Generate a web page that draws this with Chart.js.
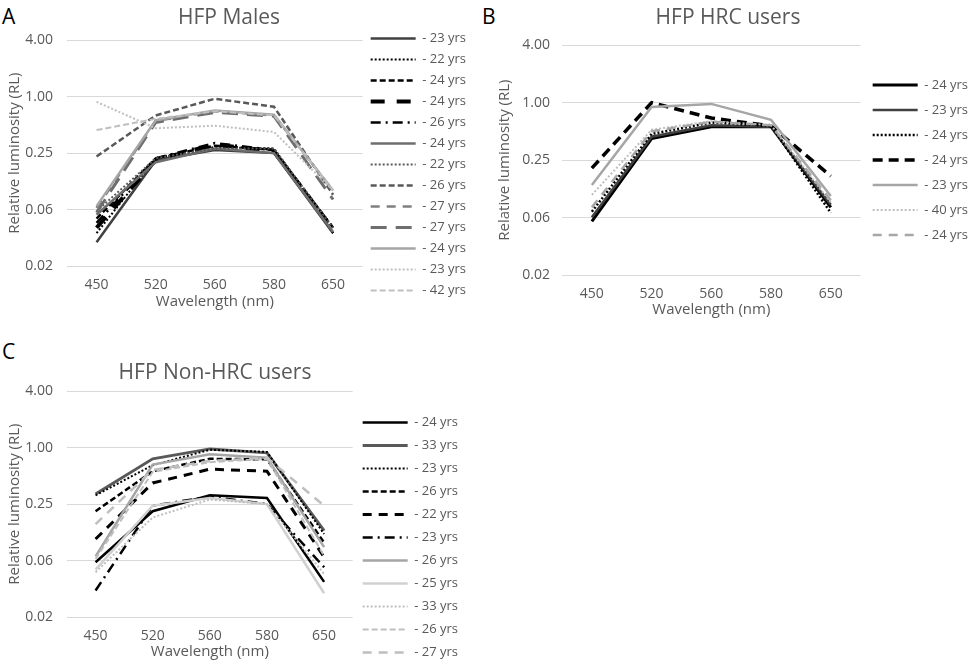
<!DOCTYPE html>
<html>
<head>
<meta charset="utf-8">
<title>HFP relative luminosity</title>
<script src="https://cdn.jsdelivr.net/npm/chart.js@4.4.1/dist/chart.umd.min.js"></script>
<style>
  html, body { margin: 0; padding: 0; background: #fff; overflow: hidden; }
  body { width: 974px; height: 662px; position: relative; font-family: 'Open Sans', sans-serif; }
  canvas { position: absolute; }
  .letter { position: absolute; font-size: 21px; line-height: 1; color: #000; }
</style>
</head>
<body>
<div class="letter" style="left:2px;top:6px">A</div>
<div class="letter" style="left:482px;top:6px">B</div>
<div class="letter" style="left:2px;top:341px">C</div>

<canvas id="chartA" width="494" height="329" style="left:-18px;top:0px"></canvas>
<canvas id="chartB" width="500" height="320" style="left:478px;top:0px"></canvas>
<canvas id="chartC" width="506" height="334" style="left:-38px;top:335px"></canvas>

<script>
// x categories and the log axis (base 4 steps)
const wavelengths = ['450', '520', '560', '580', '650'];
const yTickValues = [1 / 64, 1 / 16, 1 / 4, 1, 4];
const yTickLabels = ['0.02', '0.06', '0.25', '1.00', '4.00'];

// HFP Males
const malesAges = [23, 22, 24, 24, 26, 24, 22, 26, 27, 27, 24, 23, 42];
const malesRL = [
  [0.028, 0.21, 0.27, 0.25, 0.035],
  [0.035, 0.22, 0.29, 0.28, 0.035],
  [0.050, 0.22, 0.30, 0.27, 0.040],
  [0.040, 0.21, 0.31, 0.26, 0.038],
  [0.045, 0.22, 0.32, 0.27, 0.040],
  [0.055, 0.20, 0.28, 0.25, 0.036],
  [0.060, 0.22, 0.28, 0.28, 0.040],
  [0.23, 0.63, 0.95, 0.78, 0.090],
  [0.065, 0.55, 0.70, 0.63, 0.100],
  [0.058, 0.53, 0.68, 0.62, 0.080],
  [0.068, 0.56, 0.71, 0.64, 0.100],
  [0.88, 0.46, 0.49, 0.42, 0.100],
  [0.44, 0.58, 0.70, 0.63, 0.100]
];

// HFP HRC users
const hrcAges = [24, 23, 24, 24, 23, 40, 24];
const hrcRL = [
  [0.057, 0.42, 0.56, 0.56, 0.080],
  [0.063, 0.44, 0.58, 0.56, 0.085],
  [0.072, 0.47, 0.62, 0.57, 0.070],
  [0.206, 1.00, 0.69, 0.57, 0.170],
  [0.137, 0.90, 0.97, 0.66, 0.105],
  [0.108, 0.52, 0.64, 0.58, 0.090],
  [0.080, 0.50, 0.63, 0.58, 0.095]
];

// HFP Non-HRC users
const nonHrcAges = [24, 33, 23, 26, 22, 23, 26, 25, 33, 26, 27];
const nonHrcRL = [
  [0.060, 0.21, 0.31, 0.29, 0.037],
  [0.32, 0.76, 0.97, 0.88, 0.13],
  [0.31, 0.65, 0.95, 0.90, 0.12],
  [0.21, 0.56, 0.76, 0.75, 0.097],
  [0.106, 0.42, 0.59, 0.56, 0.068],
  [0.030, 0.24, 0.30, 0.25, 0.053],
  [0.069, 0.66, 0.85, 0.78, 0.087],
  [0.050, 0.24, 0.29, 0.25, 0.028],
  [0.047, 0.18, 0.28, 0.25, 0.045],
  [0.065, 0.55, 0.70, 0.76, 0.070],
  [0.153, 0.58, 0.72, 0.78, 0.24]
];

// line looks, one per series
const malesStyles = [
  { color: '#404040', width: 2.5, dash: [] },
  { color: '#000000', width: 2, dash: [2, 2] },
  { color: '#000000', width: 2.5, dash: [6, 3] },
  { color: '#000000', width: 4, dash: [14, 12] },
  { color: '#000000', width: 2.5, dash: [10, 5, 2, 5] },
  { color: '#6e6e6e', width: 2.5, dash: [] },
  { color: '#595959', width: 2, dash: [2, 2] },
  { color: '#595959', width: 2.5, dash: [6, 3] },
  { color: '#808080', width: 2.5, dash: [9, 7] },
  { color: '#6e6e6e', width: 3, dash: [16, 9] },
  { color: '#a6a6a6', width: 2.5, dash: [] },
  { color: '#bfbfbf', width: 2, dash: [2, 2] },
  { color: '#bfbfbf', width: 2, dash: [6, 3] }
];
const hrcStyles = [
  { color: '#000000', width: 3, dash: [] },
  { color: '#404040', width: 2.5, dash: [] },
  { color: '#000000', width: 2.5, dash: [2, 2] },
  { color: '#000000', width: 3.5, dash: [10, 6] },
  { color: '#a6a6a6', width: 2.5, dash: [] },
  { color: '#bfbfbf', width: 2, dash: [2, 2] },
  { color: '#a6a6a6', width: 2.5, dash: [9, 7] }
];
const nonHrcStyles = [
  { color: '#000000', width: 2.5, dash: [] },
  { color: '#595959', width: 3, dash: [] },
  { color: '#000000', width: 2, dash: [2, 2] },
  { color: '#000000', width: 2.5, dash: [6, 3] },
  { color: '#000000', width: 3, dash: [9, 7] },
  { color: '#000000', width: 2.5, dash: [10, 5, 2, 5] },
  { color: '#a6a6a6', width: 2.5, dash: [] },
  { color: '#d0d0d0', width: 2.5, dash: [] },
  { color: '#bfbfbf', width: 2, dash: [2, 2] },
  { color: '#bfbfbf', width: 2, dash: [6, 3] },
  { color: '#bfbfbf', width: 2.5, dash: [9, 7] }
];

const textColor = '#595959';
Chart.defaults.font.family = "'Open Sans', sans-serif";
Chart.defaults.color = textColor;

// legend entries drawn as short line samples with the series dash
function lineLegendItems(chart) {
  return chart.data.datasets.map((ds, i) => ({
    text: ds.label,
    fillStyle: ds.borderColor,
    strokeStyle: ds.borderColor,
    lineWidth: ds.borderWidth,
    lineDash: ds.borderDash,
    lineCap: 'butt',
    pointStyle: 'line',
    fontColor: textColor,
    hidden: false,
    datasetIndex: i
  }));
}

function makeChart(id, title, ages, rows, styles, box) {
  const datasets = rows.map((row, i) => ({
    label: '- ' + ages[i] + ' yrs',
    data: row,
    borderColor: styles[i].color,
    backgroundColor: styles[i].color,
    borderWidth: styles[i].width,
    borderDash: styles[i].dash,
    pointRadius: 0,
    tension: 0,
    fill: false,
    order: rows.length - i
  }));

  return new Chart(document.getElementById(id), {
    type: 'line',
    data: { labels: wavelengths, datasets: datasets },
    options: {
      responsive: false,
      animation: false,
      events: [],
      layout: { padding: 0 },
      plugins: {
        title: {
          display: true,
          text: title,
          color: textColor,
          font: { size: 21, weight: 'normal' },
          padding: { top: box.titleTop, bottom: box.titleBottom }
        },
        legend: {
          position: 'right',
          align: box.legendAlign,
          labels: {
            usePointStyle: true,
            pointStyle: 'line',
            pointStyleWidth: 45,
            padding: box.legendPad,
            color: textColor,
            font: { size: 13 },
            generateLabels: lineLegendItems
          }
        },
        tooltip: { enabled: false }
      },
      scales: {
        x: {
          offset: true,
          grid: { display: false, drawTicks: false },
          border: { display: false },
          afterFit: s => { s.height = box.xHeight; },
          ticks: { padding: box.xTickPad, color: textColor, font: { size: 14 } },
          title: {
            display: true,
            text: 'Wavelength (nm)',
            color: textColor,
            font: { size: 15 },
            padding: { top: 0, bottom: box.xTitleBottom }
          }
        },
        y: {
          type: 'logarithmic',
          min: yTickValues[0],
          max: yTickValues[yTickValues.length - 1],
          afterBuildTicks: s => { s.ticks = yTickValues.map(v => ({ value: v })); },
          afterFit: s => { s.width = box.yWidth; },
          grid: { color: '#d9d9d9', lineWidth: 1, drawTicks: false },
          border: { display: false },
          ticks: {
            padding: box.yTickPad,
            color: textColor,
            font: { size: 14 },
            callback: (v, i) => yTickLabels[i]
          },
          title: {
            display: true,
            text: 'Relative luminosity (RL)',
            color: textColor,
            font: { size: 15 },
            padding: { top: box.yTitleTop, bottom: 0 }
          }
        }
      }
    }
  });
}

makeChart('chartA', 'HFP Males', malesAges, malesRL, malesStyles, {
  titleTop: 5, titleBottom: 10, yWidth: 85, yTickPad: 14, yTitleTop: 24,
  xHeight: 63, xTickPad: 11, xTitleBottom: 18, legendPad: 8, legendAlign: 'center'
});
makeChart('chartB', 'HFP HRC users', hrcAges, hrcRL, hrcStyles, {
  titleTop: 5, titleBottom: 15, yWidth: 84, yTickPad: 12, yTitleTop: 18,
  xHeight: 45, xTickPad: 11, xTitleBottom: 1, legendPad: 12, legendAlign: 'center'
});
makeChart('chartC', 'HFP Non-HRC users', nonHrcAges, nonHrcRL, nonHrcStyles, {
  titleTop: 25, titleBottom: 6, yWidth: 105, yTickPad: 14, yTitleTop: 44,
  xHeight: 52, xTickPad: 11, xTitleBottom: 8, legendPad: 10, legendAlign: 'end'
});
</script>
</body>
</html>
